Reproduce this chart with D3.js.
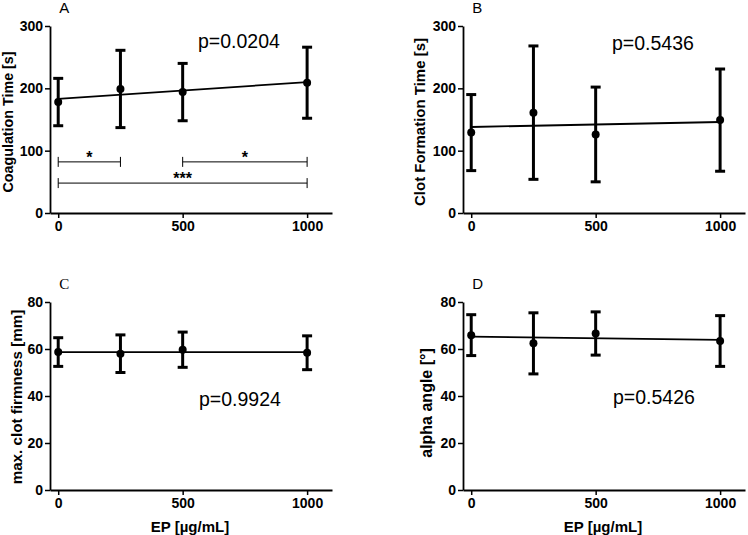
<!DOCTYPE html>
<html>
<head>
<meta charset="utf-8">
<script src="https://cdn.jsdelivr.net/npm/d3@7"></script>
<style>
  body { margin: 0; background: #fff; }
  text { font-family: "Liberation Sans", Arial, sans-serif; }
</style>
</head>
<body>
<div id="block"></div>
<script>
// EP concentrations (µg/mL)
var doses = [0, 250, 500, 1000];

// A: coagulation time
var ctMean = [178, 199, 194, 209];
var ctSd = [38, 62, 46, 57];
var ctFit = [183, 210];

// B: clot formation time
var cftMean = [129, 161, 126, 149];
var cftSd = [61, 107, 76, 82];
var cftFit = [138, 146];

// C: max clot firmness
var mcfMean = [58.7, 58.0, 59.7, 58.4];
var mcfSd = [6.1, 8.0, 7.5, 7.2];
var mcfFit = [58.7, 58.7];

// D: alpha angle
var alphaMean = [65.9, 62.4, 66.6, 63.4];
var alphaSd = [8.7, 13.0, 9.2, 10.8];
var alphaFit = [65.3, 63.9];

var xTicks = [0, 500, 1000];

// significance brackets for panel A: [from, to, y value, label]
var brackets = [[0, 250, 82, "*"], [500, 1000, 82, "*"], [0, 1000, 48, "***"]];

var w = 748,
  h = 535;

var svg = d3.select("#block")
          .append("svg")
          .attr("width", w)
          .attr("height", h);

var panels = [
  {letter: "A", serif: false, left: 50, top: 26, bottom: 213, ymax: 300, yticks: [0, 100, 200, 300],
   mean: ctMean, sd: ctSd, fit: ctFit, title: "Coagulation Time [s]", titleX: 12.5, titleY: 122, titleSize: 14.3,
   p: "p=0.0204", px: 198, py: 48, brackets: brackets, xlabel: false},
  {letter: "B", serif: false, left: 463, top: 26, bottom: 213, ymax: 300, yticks: [0, 100, 200, 300],
   mean: cftMean, sd: cftSd, fit: cftFit, title: "Clot Formation Time [s]", titleX: 425, titleY: 122, titleSize: 15,
   p: "p=0.5436", px: 612, py: 50, brackets: [], xlabel: false},
  {letter: "C", serif: true, left: 50, top: 302, bottom: 490, ymax: 80, yticks: [0, 20, 40, 60, 80],
   mean: mcfMean, sd: mcfSd, fit: mcfFit, title: "max. clot firmness [mm]", titleX: 22, titleY: 397, titleSize: 15.2,
   p: "p=0.9924", px: 199, py: 406, brackets: [], xlabel: true},
  {letter: "D", serif: false, left: 463, top: 302, bottom: 490, ymax: 80, yticks: [0, 20, 40, 60, 80],
   mean: alphaMean, sd: alphaSd, fit: alphaFit, title: "alpha angle [°]", titleX: 432, titleY: 403, titleSize: 16,
   p: "p=0.5426", px: 613, py: 404, brackets: [], xlabel: true}
];

panels.forEach(function(pn) {
  var x = d3.scaleLinear().domain([-33, 1100]).range([pn.left, pn.left + 282]);
  var y = d3.scaleLinear().domain([0, pn.ymax]).range([pn.bottom, pn.top]);
  var g = svg.append("g");

  // axes
  var xAxis = g.append("g")
    .attr("transform", "translate(0," + pn.bottom + ")")
    .call(d3.axisBottom(x).tickValues(xTicks).tickFormat(d3.format("d"))
      .tickSize(5).tickSizeOuter(0).tickPadding(3));
  var yAxis = g.append("g")
    .attr("transform", "translate(" + pn.left + ",0)")
    .call(d3.axisLeft(y).tickValues(pn.yticks).tickSize(5).tickSizeOuter(0).tickPadding(2));
  [xAxis, yAxis].forEach(function(a) {
    a.select(".domain").attr("stroke", "#000").attr("stroke-width", 1.8);
    a.selectAll(".tick line").attr("stroke", "#000").attr("stroke-width", 1.5);
    a.selectAll(".tick text")
      .attr("fill", "#000")
      .style("font-family", "'Liberation Sans', Arial, sans-serif")
      .style("font-size", "14px")
      .style("font-weight", "bold");
  });

  // regression line
  g.append("line")
    .attr("x1", x(doses[0])).attr("x2", x(doses[doses.length - 1]))
    .attr("y1", y(pn.fit[0])).attr("y2", y(pn.fit[1]))
    .attr("stroke", "#000").attr("stroke-width", 1.8);

  // error bars
  var bars = g.selectAll(".err").data(doses).enter().append("g");
  bars.append("line")
    .attr("x1", function(d) { return x(d); }).attr("x2", function(d) { return x(d); })
    .attr("y1", function(d, i) { return y(pn.mean[i] + pn.sd[i]); })
    .attr("y2", function(d, i) { return y(pn.mean[i] - pn.sd[i]); })
    .attr("stroke", "#000").attr("stroke-width", 3);
  [1, -1].forEach(function(s) {
    bars.append("line")
      .attr("x1", function(d) { return x(d) - 5; }).attr("x2", function(d) { return x(d) + 5; })
      .attr("y1", function(d, i) { return y(pn.mean[i] + s * pn.sd[i]); })
      .attr("y2", function(d, i) { return y(pn.mean[i] + s * pn.sd[i]); })
      .attr("stroke", "#000").attr("stroke-width", 3);
  });
  bars.append("circle")
    .attr("cx", function(d) { return x(d); })
    .attr("cy", function(d, i) { return y(pn.mean[i]); })
    .attr("r", 4)
    .attr("fill", "#000");

  // significance brackets
  pn.brackets.forEach(function(b) {
    var by = y(b[2]);
    g.append("line").attr("x1", x(b[0])).attr("x2", x(b[1])).attr("y1", by).attr("y2", by)
      .attr("stroke", "#000").attr("stroke-width", 1);
    [b[0], b[1]].forEach(function(v) {
      g.append("line").attr("x1", x(v)).attr("x2", x(v)).attr("y1", by - 5).attr("y2", by + 5)
        .attr("stroke", "#000").attr("stroke-width", 1);
    });
    g.append("text")
      .attr("x", (x(b[0]) + x(b[1])) / 2).attr("y", by + 1)
      .attr("text-anchor", "middle")
      .style("font-size", "16px").style("font-weight", "bold")
      .text(b[3]);
  });

  // panel letter
  g.append("text")
    .attr("x", x(0) + 1).attr("y", pn.top - 13)
    .style("font-family", pn.serif ? "'Liberation Serif', 'Times New Roman', serif" : null)
    .style("font-size", "15px")
    .text(pn.letter);

  // p value
  g.append("text")
    .attr("x", pn.px).attr("y", pn.py)
    .style("font-size", "19.5px")
    .text(pn.p);

  // y title
  g.append("text")
    .attr("transform", "translate(" + pn.titleX + "," + pn.titleY + ") rotate(-90)")
    .attr("text-anchor", "middle")
    .style("font-size", pn.titleSize + "px").style("font-weight", "bold")
    .text(pn.title);

  // x title
  if (pn.xlabel) {
    g.append("text")
      .attr("x", pn.left + 140).attr("y", 532)
      .attr("text-anchor", "middle")
      .style("font-size", "15px").style("font-weight", "bold")
      .text("EP [µg/mL]");
  }
});
</script>
</body>
</html>
